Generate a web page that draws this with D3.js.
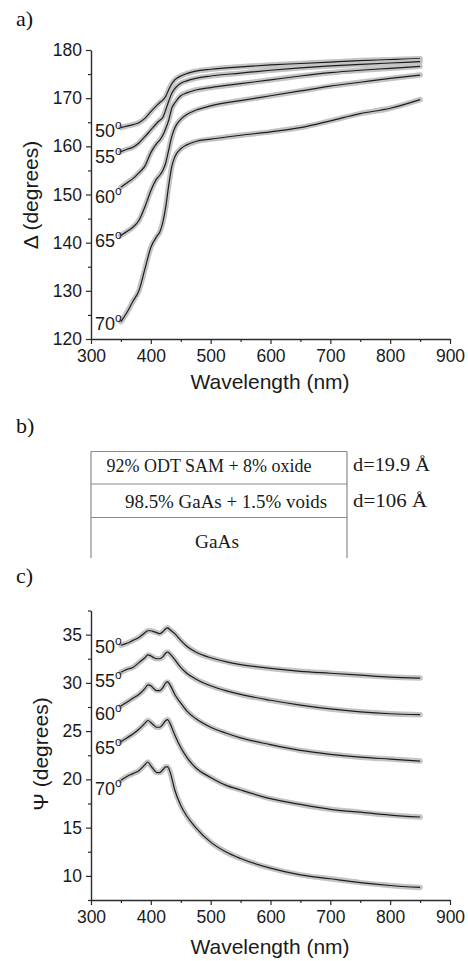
<!DOCTYPE html>
<html><head><meta charset="utf-8">
<script src="https://cdn.jsdelivr.net/npm/d3@7"></script>
<style>
html,body{margin:0;padding:0;background:#fff;}
svg{display:block;}
</style></head>
<body>
<svg id="chart" width="468" height="961"></svg>
<script>
// ---------- DATA ----------
const angles = ["50", "55", "60", "65", "70"];

// Panel a) Delta (degrees)
const deltaWavelengths = [350,360,370,380,390,400,410,415,420,425,430,435,440,450,460,475,500,550,600,650,700,750,800,850];
const delta50 = [163.9,164.2,164.5,164.9,165.8,167.2,168.5,169.1,169.6,170.4,171.8,173.0,173.8,174.6,175.1,175.6,176.0,176.5,176.9,177.2,177.5,177.8,178.0,178.2];
const delta55 = [158.9,159.4,159.8,160.7,162.0,163.4,164.8,165.4,166.0,167.6,169.4,171.0,172.0,173.1,173.6,174.1,174.6,175.2,175.8,176.3,176.7,177.0,177.3,177.6];
const delta60 = [151.5,152.4,153.3,154.5,155.9,158.7,160.6,161.3,162.3,163.7,165.5,167.9,169.0,170.5,171.1,171.7,172.2,173.0,173.8,174.6,175.3,175.8,176.2,176.6];
const delta65 = [141.5,142.3,143.2,144.6,147.4,150.8,153.3,154.0,155.0,156.6,159.3,162.0,163.8,165.6,166.6,167.5,168.4,169.5,170.5,171.5,172.5,173.3,174.1,174.8];
const delta70 = [123.6,125.5,127.8,130.0,134.5,139.0,141.3,142.2,144.2,147.5,152.0,155.8,157.8,159.5,160.3,161.0,161.5,162.3,163.0,163.9,165.3,166.8,167.9,169.7];
const deltaLabelY = [162.0,156.6,148.3,139.2,121.9];
const deltaTicks = [120,130,140,150,160,170,180];
const deltaMinorTicks = [125,135,145,155,165,175];

// Panel c) Psi (degrees)
const psiWavelengths = [350,360,370,380,390,395,400,405,410,415,420,425,428,432,440,450,460,475,500,525,550,600,650,700,750,800,850];
const psi50 = [33.9,34.1,34.4,34.7,35.2,35.4,35.4,35.3,35.2,35.1,35.3,35.6,35.7,35.5,35.1,34.4,33.8,33.2,32.6,32.2,31.9,31.5,31.2,31.0,30.8,30.6,30.5];
const psi55 = [31.1,31.4,31.6,32.1,32.6,32.9,32.8,32.6,32.5,32.5,32.7,33.1,33.2,33.0,32.4,31.6,31.0,30.4,29.7,29.2,28.8,28.2,27.7,27.3,27.0,26.8,26.7];
const psi60 = [27.6,28.0,28.4,28.8,29.4,29.8,29.7,29.4,29.2,29.2,29.5,30.0,30.1,29.8,28.8,27.9,27.1,26.3,25.4,24.8,24.3,23.6,23.0,22.6,22.3,22.1,21.9];
const psi65 = [23.9,24.3,24.7,25.2,25.8,26.1,25.9,25.6,25.4,25.4,25.7,26.1,26.2,25.8,24.6,23.3,22.3,21.2,20.2,19.4,18.9,18.0,17.4,16.9,16.6,16.3,16.1];
const psi70 = [19.9,20.3,20.6,20.9,21.5,21.8,21.4,21.0,20.7,20.7,21.0,21.3,21.3,20.8,18.9,17.3,16.2,15.0,13.5,12.5,11.8,10.8,10.1,9.7,9.3,9.0,8.8];
const psiLabelY = [33.1,29.6,26.2,22.6,18.4];
const psiTicks = [10,15,20,25,30,35];
const psiMinorTicks = [7.5,12.5,17.5,22.5,27.5,32.5,37.5];

// Shared x axis
const xTicks = [300,400,500,600,700,800,900];
const xMinorTicks = [350,450,550,650,750,850];
const labelWavelength = 306.5;

// Panel b) layer model
const layerNames = ["92% ODT SAM + 8% oxide", "98.5% GaAs + 1.5% voids", "GaAs"];
const layerThickness = ["d=19.9 Å", "d=106 Å", ""];

// ---------- DRAW ----------
const svg = d3.select("#chart");
const sans = "'Liberation Sans', Arial, sans-serif";
const serif = "'Liberation Serif', 'Times New Roman', serif";
const axisColor = "#2a2a2a";

function panel(cfg) {
  const x = d3.scaleLinear().domain([300, 900]).range([91, 450]);
  const y = d3.scaleLinear().domain(cfg.yDomain).range(cfg.yRange);
  const g = svg.append("g");

  // minor ticks
  g.append("g").attr("transform", `translate(0,${cfg.yRange[0]})`)
    .call(d3.axisBottom(x).tickValues(xMinorTicks).tickSize(3).tickSizeOuter(0).tickFormat(""))
    .call(a => a.select(".domain").remove());
  g.append("g").attr("transform", `translate(91,0)`)
    .call(d3.axisLeft(y).tickValues(cfg.minor).tickSize(3).tickSizeOuter(0).tickFormat(""))
    .call(a => a.select(".domain").remove());

  const xa = g.append("g").attr("transform", `translate(0,${cfg.yRange[0]})`)
    .call(d3.axisBottom(x).tickValues(xTicks).tickSize(5).tickSizeOuter(0).tickPadding(6));
  const ya = g.append("g").attr("transform", `translate(91,0)`)
    .call(d3.axisLeft(y).tickValues(cfg.ticks).tickSize(5).tickSizeOuter(0).tickPadding(4));
  [xa, ya].forEach(a => {
    a.selectAll("text").attr("font-family", sans).attr("font-size", 17.5).attr("fill", "#1a1a1a");
    a.select(".domain").attr("stroke", axisColor).attr("stroke-width", 1.4);
  });
  g.selectAll(".tick line").attr("stroke", axisColor).attr("stroke-width", 1.2);

  // axis titles
  g.append("text").attr("x", 270).attr("y", cfg.xTitleY)
    .attr("text-anchor", "middle").attr("font-family", sans).attr("font-size", 21)
    .attr("fill", "#1a1a1a").text("Wavelength (nm)");
  g.append("text")
    .attr("transform", `translate(${cfg.yTitleX},${cfg.yTitleCY}) rotate(-90)`)
    .attr("text-anchor", "middle").attr("font-family", sans).attr("font-size", 21)
    .attr("fill", "#1a1a1a").text(cfg.yTitle);

  const line = d3.line().x(d => x(d[0])).y(d => y(d[1])).curve(d3.curveMonotoneX);
  cfg.series.forEach((vals, i) => {
    const pts = cfg.wl.map((w, j) => [w, vals[j]]);
    g.append("path").attr("d", line(pts)).attr("fill", "none")
      .attr("stroke", "#c4c4c4").attr("stroke-width", 5.5)
      .attr("stroke-linecap", "round").attr("stroke-linejoin", "round");
    g.append("path").attr("d", line(pts)).attr("fill", "none")
      .attr("stroke", "#1c1c1c").attr("stroke-width", 1.2);
    const t = g.append("text").attr("x", x(labelWavelength)).attr("y", y(cfg.labelY[i]))
      .attr("font-family", sans).attr("font-size", 18).attr("fill", "#1a1a1a");
    t.append("tspan").text(angles[i]);
    t.append("tspan").attr("font-size", 12).attr("dy", -8).text("o");
  });
}

panel({
  yDomain: [120, 180], yRange: [339, 50], ticks: deltaTicks, minor: deltaMinorTicks,
  wl: deltaWavelengths, series: [delta50, delta55, delta60, delta65, delta70],
  labelY: deltaLabelY, yTitle: "Δ (degrees)", yTitleX: 38, yTitleCY: 195, xTitleY: 389
});
panel({
  yDomain: [7.5, 37.5], yRange: [900, 610.5], ticks: psiTicks, minor: psiMinorTicks,
  wl: psiWavelengths, series: [psi50, psi55, psi60, psi65, psi70],
  labelY: psiLabelY, yTitle: "Ψ (degrees)", yTitleX: 48, yTitleCY: 754, xTitleY: 954
});

// panel letters
[["a)", 26], ["b)", 433], ["c)", 583]].forEach(([t, yy]) => {
  svg.append("text").attr("x", 16).attr("y", yy).attr("font-family", serif)
    .attr("font-size", 22).attr("fill", "#111").text(t);
});

// panel b) layer stack
const bx0 = 91, bx1 = 347;
const rows = [451.5, 484, 517.5, 558];
const bg = svg.append("g");
const boxStroke = "#8a8a8a";
bg.append("line").attr("x1", bx0).attr("x2", bx0).attr("y1", rows[0]).attr("y2", rows[3]).attr("stroke", boxStroke).attr("stroke-width", 1.2);
bg.append("line").attr("x1", bx1).attr("x2", bx1).attr("y1", rows[0]).attr("y2", rows[3]).attr("stroke", boxStroke).attr("stroke-width", 1.2);
rows.slice(0, 3).forEach(r => bg.append("line").attr("x1", bx0).attr("x2", bx1).attr("y1", r).attr("y2", r).attr("stroke", boxStroke).attr("stroke-width", 1.2));
const textCx = [209, 226, 217];
const textBase = [471.5, 508, 548];
const textW = [205, 202, 44];
const dW = [77, 74];
layerNames.forEach((n, i) => {
  bg.append("text").attr("x", textCx[i]).attr("y", textBase[i])
    .attr("text-anchor", "middle").attr("font-family", serif).attr("font-size", 19.5)
    .attr("fill", "#1a1a1a").attr("textLength", textW[i]).attr("lengthAdjust", "spacingAndGlyphs")
    .text(n);
  if (layerThickness[i]) {
    bg.append("text").attr("x", 353).attr("y", textBase[i] - 1)
      .attr("font-family", serif).attr("font-size", 19.5).attr("fill", "#1a1a1a")
      .attr("textLength", dW[i]).attr("lengthAdjust", "spacingAndGlyphs")
      .text(layerThickness[i]);
  }
});
</script>
</body></html>
